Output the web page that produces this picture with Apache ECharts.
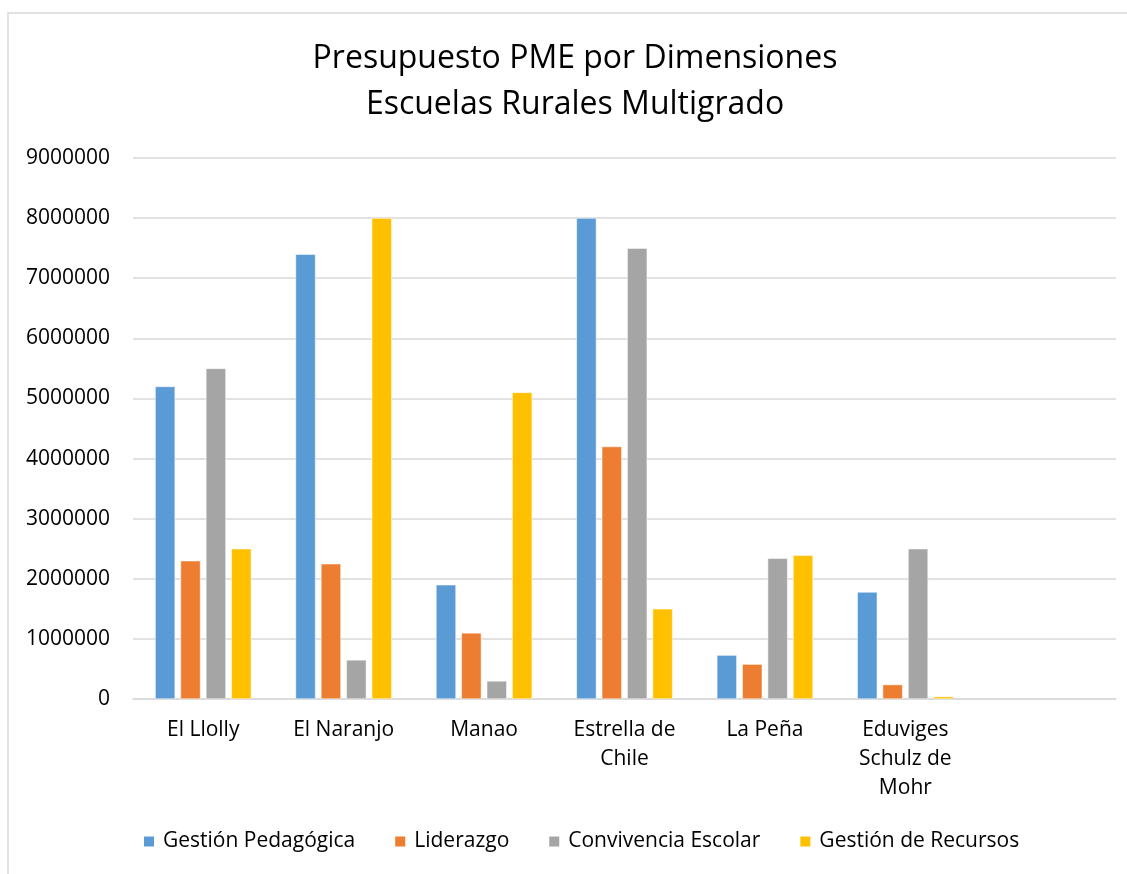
<!DOCTYPE html>
<html>
<head>
<meta charset="utf-8">
<script src="https://cdn.jsdelivr.net/npm/echarts@6/dist/echarts.min.js"></script>
<style>
  html, body { margin: 0; padding: 0; background: #ffffff; }
  #chart { width: 1127px; height: 874px; }
</style>
</head>
<body>
<div id="chart"></div>
<script>
// Schools (the last slot is an empty category, kept for spacing)
const schools = ['El Llolly', 'El Naranjo', 'Manao', 'Estrella de\nChile', 'La Peña', 'Eduviges\nSchulz de\nMohr', ''];

// Budget per dimension, one value per school
const gestionPedagogica = [5200000, 7400000, 1900000, 8000000, 730000, 1780000, null];
const liderazgo         = [2300000, 2250000, 1100000, 4200000, 580000, 240000, null];
const convivencia       = [5500000, 650000, 300000, 7500000, 2340000, 2500000, null];
const gestionRecursos   = [2500000, 8000000, 5100000, 1500000, 2390000, 40000, null];

const seriesNames = ['Gestión Pedagógica', 'Liderazgo', 'Convivencia Escolar', 'Gestión de Recursos'];
const seriesColors = ['#5b9bd5', '#ed7d31', '#a5a5a5', '#ffc000'];
const seriesData = [gestionPedagogica, liderazgo, convivencia, gestionRecursos];

const FONT = '"Open Sans", "Noto Sans", sans-serif';

const chart = echarts.init(document.getElementById('chart'), null, { renderer: 'canvas' });

chart.setOption({
  backgroundColor: '#ffffff',
  animation: false,
  graphic: [{
    type: 'rect',
    shape: { x: 8, y: 13, width: 1130, height: 880 },
    style: { fill: 'none', stroke: '#d9d9d9', lineWidth: 1.5 },
    silent: true
  }],
  title: {
    text: 'Presupuesto PME por Dimensiones\nEscuelas Rurales Multigrado',
    left: 570,
    textAlign: 'center',
    top: 31,
    textStyle: {
      fontFamily: FONT,
      fontSize: 32,
      fontWeight: 'normal',
      color: '#000000',
      lineHeight: 46
    }
  },
  legend: {
    data: seriesNames,
    bottom: 17,
    left: 137,
    itemWidth: 12,
    itemHeight: 12,
    itemGap: 38,
    icon: 'rect',
    textStyle: { fontFamily: FONT, fontSize: 21, color: '#000000', padding: [0, 0, 0, 3] }
  },
  grid: { left: 133, right: 11, top: 158, bottom: 175 },
  xAxis: {
    type: 'category',
    data: schools,
    axisLine: { lineStyle: { color: '#d9d9d9', width: 1.5 } },
    axisTick: { show: false },
    axisLabel: {
      interval: 0,
      margin: 17,
      fontFamily: FONT,
      fontSize: 21,
      color: '#000000',
      lineHeight: 29
    }
  },
  yAxis: {
    type: 'value',
    min: 0,
    max: 9000000,
    interval: 1000000,
    axisLine: { show: false },
    axisTick: { show: false },
    splitLine: { lineStyle: { color: '#d9d9d9', width: 1.5 } },
    axisLabel: {
      margin: 23,
      fontFamily: FONT,
      fontSize: 21,
      color: '#000000',
      formatter: (v) => String(v)
    }
  },
  series: seriesNames.map((name, i) => ({
    name,
    type: 'bar',
    data: seriesData[i],
    barWidth: 20,
    barGap: '27%',
    itemStyle: { color: seriesColors[i], borderColor: '#ffffff', borderWidth: 0.5 }
  }))
});
</script>
</body>
</html>
